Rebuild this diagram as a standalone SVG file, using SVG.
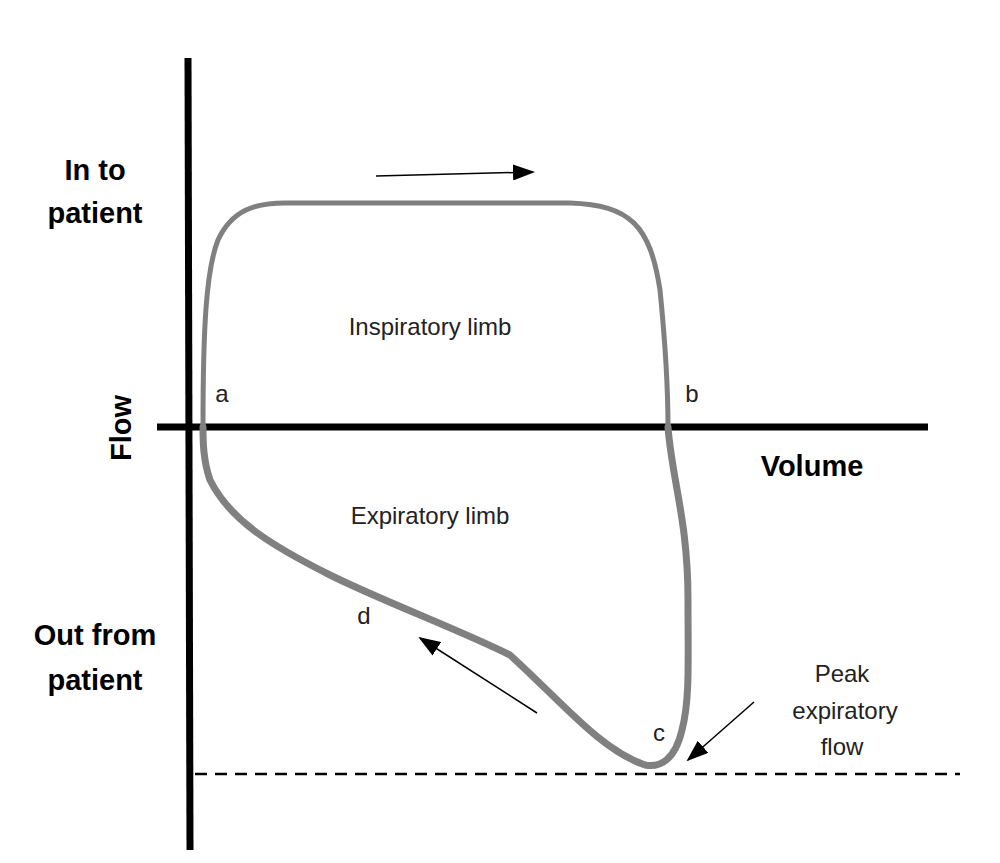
<svg xmlns="http://www.w3.org/2000/svg" width="1000" height="863" viewBox="0 0 1000 863">
<defs>
<marker id="ah2" markerWidth="22" markerHeight="16" refX="20" refY="8" orient="auto" markerUnits="userSpaceOnUse" viewBox="0 0 22 16"><path d="M0,0 L22,8 L0,16 z" fill="#000"/></marker>
<style>.l{font-family:"Liberation Sans",Arial,sans-serif;font-size:24px;fill:#222}.b{font-family:"Liberation Sans",Arial,sans-serif;font-weight:bold;font-size:29px;fill:#000}</style></defs>
<rect width="1000" height="863" fill="#fff"/>
<g id="axes">
<line x1="188" y1="58" x2="190" y2="850" stroke="#000" stroke-width="7"/>
<line x1="157" y1="427" x2="928" y2="427" stroke="#000" stroke-width="7"/>
<line x1="195" y1="774" x2="960" y2="774" stroke="#000" stroke-width="2.5" stroke-dasharray="12,8"/>
</g>
<g id="loop" fill="none" stroke="#808080" stroke-linecap="round" stroke-linejoin="round">
<path d="M203,427 C203,330 206,270 218,240 C232,210 255,203 285,203 L570,203 C630,205 650,225 660,290 C665,340 668,390 668,427" stroke-width="5"/>
<path d="M668,427 C672,480 688,520 688,600 C688,660 690,700 682,730 C675,760 660,768 645,765 C600,750 560,700 510,655 C460,630 380,600 330,575 C270,545 230,520 210,480 C203,460 203,440 203,427" stroke-width="7"/>
</g>
<g id="connectors" stroke="#000" stroke-width="1.5">
<line x1="376" y1="176" x2="533" y2="172" marker-end="url(#ah2)"/>
<line x1="537" y1="713" x2="420" y2="638" marker-end="url(#ah2)"/>
<line x1="754" y1="702" x2="688" y2="760" marker-end="url(#ah2)"/>
</g>
<g id="labels">
<text class="b" x="95" y="180" text-anchor="middle">In to</text>
<text class="b" x="95" y="223" text-anchor="middle">patient</text>
<text class="b" x="95" y="645" text-anchor="middle">Out from</text>
<text class="b" x="95" y="690" text-anchor="middle">patient</text>
<text class="b" x="0" y="0" font-size="34" text-anchor="middle" transform="translate(131,428) rotate(-90)">Flow</text>
<text class="b" x="812" y="476" font-size="33" text-anchor="middle">Volume</text>
<text class="l" x="430" y="335" text-anchor="middle">Inspiratory limb</text>
<text class="l" x="430" y="524" text-anchor="middle">Expiratory limb</text>
<text class="l" x="222" y="402" text-anchor="middle">a</text>
<text class="l" x="692" y="402" text-anchor="middle">b</text>
<text class="l" x="364" y="624" text-anchor="middle">d</text>
<text class="l" x="659" y="741" text-anchor="middle">c</text>
<text class="l" x="842" y="682" text-anchor="middle">Peak</text>
<text class="l" x="845" y="719" text-anchor="middle">expiratory</text>
<text class="l" x="842" y="755" text-anchor="middle">flow</text>
</g>
</svg>
